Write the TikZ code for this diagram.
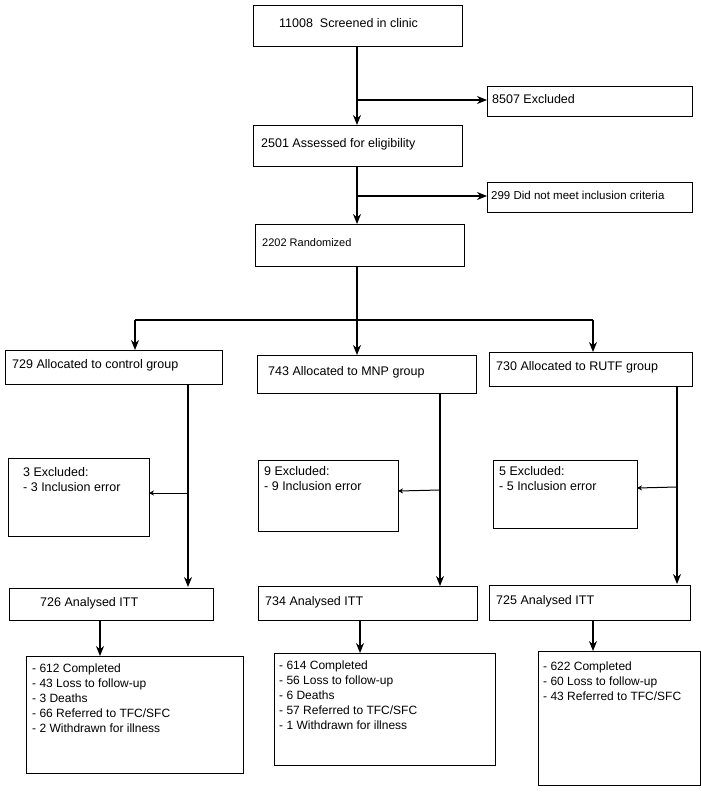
\documentclass[tikz,border=0pt]{standalone}
\usepackage{fontspec}
\setmainfont{Liberation Sans}
\usetikzlibrary{arrows.meta}
\begin{document}
\begin{tikzpicture}[x=1pt,y=-1pt,
  bx/.style={draw,line width=0.8pt,inner sep=0pt},
  t/.style={anchor=north west,align=left,font=\fontsize{12.5}{15.5}\selectfont,inner sep=0pt},
  ar/.style={line width=1.2pt,-{Stealth[length=10pt,width=8pt]}},
  sar/.style={line width=1pt,-{Stealth[length=5pt,width=5pt]}},
  ln/.style={line width=1.2pt}]
\useasboundingbox (0,0) rectangle (701,800);
\draw[bx] (253,5) rectangle (462,46); \node[t] (a) at (279,18) {11008\ \ Screened in clinic};
\draw[bx] (487,86) rectangle (692,116); \node[t] (ex) at (492,94) {8507 Excluded};
\draw[bx] (253,125) rectangle (462,166); \node[t] (b) at (261,138) {2501 Assessed for eligibility};
\draw[bx] (487,182) rectangle (692,212); \node[t,font=\fontsize{11.5}{14}\selectfont] (nm) at (491,191) {299 Did not meet inclusion criteria};
\draw[bx] (255,224) rectangle (464,266); \node[t,font=\fontsize{11}{13}\selectfont] (r) at (262,238) {2202 Randomized};
\coordinate (s1) at (357,46); \coordinate (e1) at (357,125); \coordinate (m1) at (357,100); \coordinate (x1) at (487,100);
\draw[ar] (s1) -- (e1); \draw[ar] (m1) -- (x1);
\coordinate (s2) at (357,166); \coordinate (e2) at (357,224); \coordinate (m2) at (357,196); \coordinate (x2) at (487,196);
\draw[ar] (s2) -- (e2); \draw[ar] (m2) -- (x2);
\coordinate (r0) at (357,266); \coordinate (r1) at (357,320);
\draw[ln] (r0) -- (r1); \draw[ln] (135,320) -- (593,320);
\draw[ar] (135,320) -- (135,350); \draw[ar] (357,320) -- (357,355); \draw[ar] (593,320) -- (593,352);
% groups
\draw[bx] (5,350) rectangle (222,384); \node[t] (g1) at (12,359) {729 Allocated to control group};
\draw[bx] (257,355) rectangle (476,393); \node[t] (g2) at (268,366) {743 Allocated to MNP group};
\draw[bx] (489,352) rectangle (692,386); \node[t] (g3) at (496,361) {730 Allocated to RUTF group};
\draw[bx] (8,458) rectangle (149,536); \node[t] (e1t) at (23,467) {3 Excluded:\\- 3 Inclusion error};
\draw[bx] (258,460) rectangle (398,531); \node[t] (e2t) at (264,466) {9 Excluded:\\- 9 Inclusion error};
\draw[bx] (493,460) rectangle (637,528); \node[t] (e3t) at (499,466) {5 Excluded:\\- 5 Inclusion error};
\draw[ar] (188,384) -- (188,587); \draw[sar] (188,493) -- (149,493);
\draw[ar] (440,393) -- (440,586); \draw[sar] (440,490) -- (398,491);
\draw[ar] (677,386) -- (677,584); \draw[sar] (677,487) -- (637,488);
\draw[bx] (9,588) rectangle (213,620); \node[t] (a1) at (40,597) {726 Analysed ITT};
\draw[bx] (258,586) rectangle (477,620); \node[t] (a2) at (265,596) {734 Analysed ITT};
\draw[bx] (489,585) rectangle (690,620); \node[t] (a3) at (496,595) {725 Analysed ITT};
\draw[ar] (100,620) -- (100,656); \draw[ar] (360,620) -- (360,653); \draw[ar] (593,620) -- (593,651);
\draw[bx] (26,656) rectangle (243,773);
\node[t,font=\fontsize{12}{15}\selectfont] (f1) at (32,664) {- 612 Completed\\- 43 Loss to follow-up\\- 3 Deaths\\- 66 Referred to TFC/SFC\\- 2 Withdrawn for illness};
\draw[bx] (274,653) rectangle (495,765);
\node[t,font=\fontsize{12}{15}\selectfont] (f2) at (279,661) {- 614 Completed\\- 56 Loss to follow-up\\- 6 Deaths\\- 57 Referred to TFC/SFC\\- 1 Withdrawn for illness};
\draw[bx] (538,651) rectangle (700,785);
\node[t,font=\fontsize{12}{15}\selectfont] (f3) at (543,662) {- 622 Completed\\- 60 Loss to follow-up\\- 43 Referred to TFC/SFC};
\end{tikzpicture}
\end{document}
